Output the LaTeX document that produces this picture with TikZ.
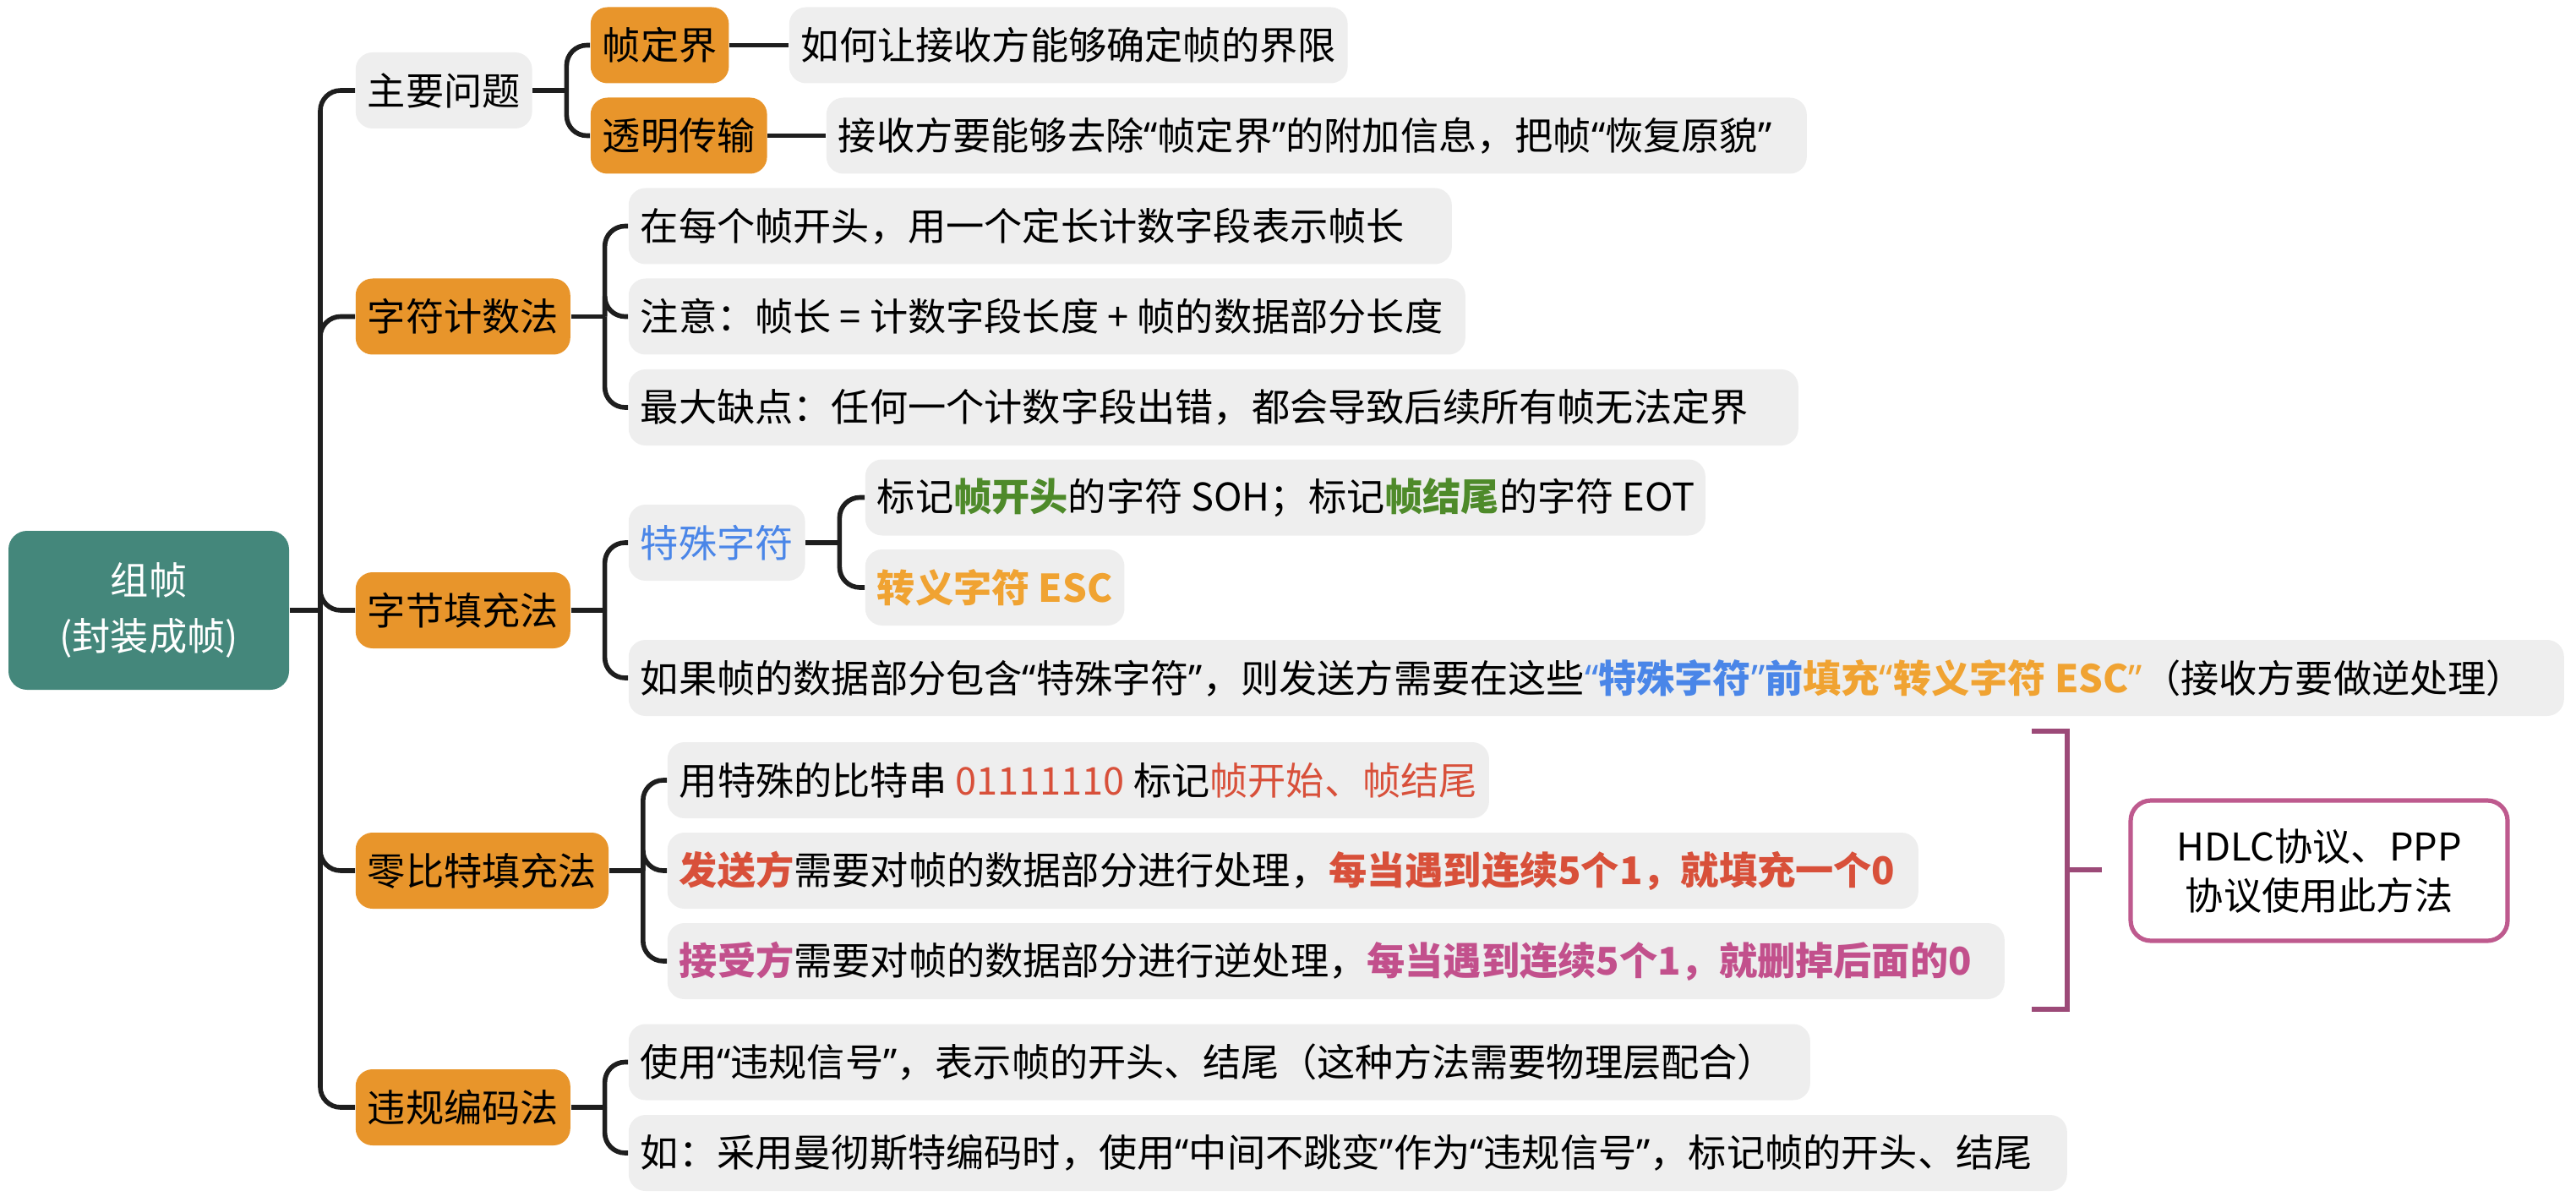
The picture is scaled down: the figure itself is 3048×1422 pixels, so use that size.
\documentclass[tikz,border=0pt]{standalone}
\usepackage{fontspec}
\setmainfont{Noto Sans CJK SC}
\newfontfamily\quofont{Noto Sans}
\usetikzlibrary{calc}
\definecolor{rootteal}{HTML}{44877B}
\definecolor{nodeorange}{HTML}{E8952B}
\definecolor{leafgrey}{HTML}{EEEEEE}
\definecolor{linkblack}{HTML}{1E1E1E}
\definecolor{specblue}{HTML}{4A86E8}
\definecolor{escgold}{HTML}{F0A332}
\definecolor{markgreen}{HTML}{4E8A2A}
\definecolor{markred}{HTML}{D8503A}
\definecolor{markpink}{HTML}{C2508C}
\definecolor{bracepurple}{HTML}{9C4A78}
\definecolor{hdlcpink}{HTML}{BE5A8E}
\newcommand{\lquo}{{\quofont “}}
\newcommand{\rquo}{{\quofont ”}}
\newcommand{\padto}[2]{\makebox[#1][l]{#2}}
\begin{document}
\begin{tikzpicture}[x=0.25pt, y=-0.25pt,
  every node/.style={font=\fontsize{11.3pt}{16.5pt}\selectfont},
  box/.style={rounded corners=5pt, inner xsep=3.5pt, inner ysep=0pt, minimum height=22.5pt, anchor=west},
  grey box/.style={box, fill=leafgrey},
  orange box/.style={box, fill=nodeorange},
  link/.style={draw=linkblack, line width=1.4pt, rounded corners=6pt},
  brace/.style={draw=bracepurple, line width=1.3pt}]
\useasboundingbox (0,0) rectangle (3048,1422);

\node[fill=rootteal, text=white, rounded corners=5.5pt, minimum width=83pt, minimum height=47pt, align=center] (root) at (176,722) {组帧\\(封装成帧)};
\coordinate (trunk) at (379,722);

\node[grey box] (issue) at (420,107) {主要问题};
\node[orange box] (delim) at (698,53.5) {帧定界};
\node[orange box] (transp) at (698,160.5) {透明传输};
\node[grey box] (delimtxt) at (933,53.5) {如何让接收方能够确定帧的界限};
\node[grey box] (transptxt) at (977,160.5) {\padto{283pt}{接收方要能够去除\lquo 帧定界\rquo 的附加信息，把帧\lquo 恢复原貌\rquo}};

\node[orange box] (count) at (420,374.5) {字符计数法};
\node[grey box] (count1) at (743,267.5) {\padto{236.5pt}{在每个帧开头，用一个定长计数字段表示帧长}};
\node[grey box] (count2) at (743,374.5) {\padto{240.5pt}{注意：帧长 = 计数字段长度 + 帧的数据部分长度}};
\node[grey box] (count3) at (743,482) {\padto{339pt}{最大缺点：任何一个计数字段出错，都会导致后续所有帧无法定界}};

\node[orange box] (bytefill) at (420,722) {字节填充法};
\node[grey box, text=specblue] (special) at (743,642) {特殊字符};
\node[grey box] (soh) at (1023,588.5) {\padto{241.5pt}{标记\textcolor{markgreen}{\bfseries 帧开头}的字符 SOH；标记\textcolor{markgreen}{\bfseries 帧结尾}的字符 EOT}};
\node[grey box, text=escgold] (esc) at (1023,695) {\bfseries 转义字符 ESC};
\node[grey box] (bytetxt) at (743,802) {\padto{565.5pt}{如果帧的数据部分包含\lquo 特殊字符\rquo，则发送方需要在这些\textcolor{specblue}{\bfseries\lquo 特殊字符\rquo 前}\textcolor{escgold}{\bfseries 填充\lquo 转义字符 ESC\rquo}（接收方要做逆处理）}};

\node[orange box] (zerofill) at (420,1030) {零比特填充法};
\node[grey box] (zero1) at (789,923) {用特殊的比特串 \textcolor{markred}{01111110} 标记\textcolor{markred}{帧开始、帧结尾}};
\node[grey box] (zero2) at (789,1030) {\padto{363pt}{\textcolor{markred}{\bfseries 发送方}需要对帧的数据部分进行处理，\textcolor{markred}{\bfseries 每当遇到连续5个1，就填充一个0}}};
\node[grey box] (zero3) at (789,1137) {\padto{388.5pt}{\textcolor{markpink}{\bfseries 接受方}需要对帧的数据部分进行逆处理，\textcolor{markpink}{\bfseries 每当遇到连续5个1，就删掉后面的0}}};

\node[orange box] (violate) at (420,1310) {违规编码法};
\node[grey box] (viol1) at (743,1256.5) {\padto{342.5pt}{使用\lquo 违规信号\rquo，表示帧的开头、结尾（这种方法需要物理层配合）}};
\node[grey box] (viol2) at (743,1364) {\padto{418.5pt}{如：采用曼彻斯特编码时，使用\lquo 中间不跳变\rquo 作为\lquo 违规信号\rquo，标记帧的开头、结尾}};

\node[draw=hdlcpink, line width=1.3pt, fill=white, rounded corners=6pt, minimum width=111.5pt, minimum height=41.5pt, align=center, font=\fontsize{11.3pt}{14.5pt}\selectfont] (hdlc) at (2744,1030) {HDLC协议、PPP\\协议使用此方法};
\coordinate (brace-top) at (2404,865);
\coordinate (brace-bot) at (2404,1194);
\coordinate (brace-mid) at (2446,1029);
\coordinate (brace-tip) at (2487,1029);

\draw[link] (root.east) -- (trunk);
\foreach \c in {issue,count,bytefill,zerofill,violate}
  \draw[link] (trunk) |- (\c.west);
\foreach \p in {issue,count,special,bytefill,zerofill,violate}
  \draw[link] (\p.east) -- ++(40,0);
\foreach \p/\c in {issue/delim,issue/transp,count/count1,count/count2,count/count3,special/soh,special/esc,bytefill/special,bytefill/bytetxt,zerofill/zero1,zerofill/zero2,zerofill/zero3,violate/viol1,violate/viol2}
  \draw[link] ($(\p.east)+(40,0)$) |- (\c.west);
\draw[link] (delim) -- (delimtxt);
\draw[link] (transp) -- (transptxt);

\draw[brace] (brace-top) -| (brace-mid) |- (brace-bot);
\draw[brace] (brace-mid) -- (brace-tip);
\end{tikzpicture}
\end{document}
